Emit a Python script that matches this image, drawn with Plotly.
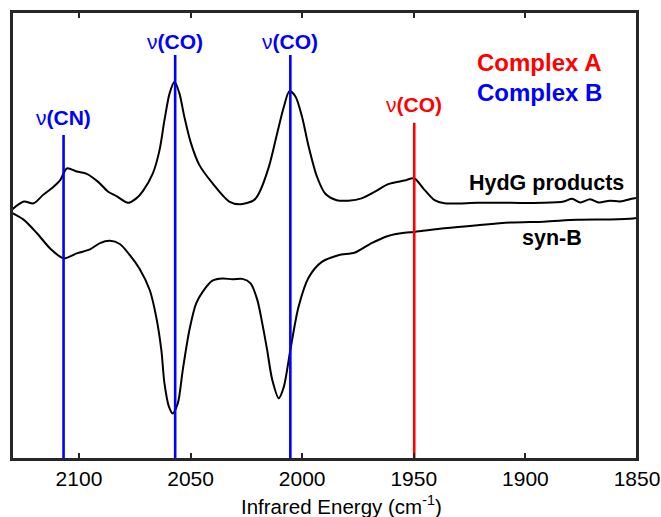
import plotly.graph_objects as go

# HydG products spectrum (wavenumber cm-1, arbitrary absorbance units)
hydg_x = [2129.8, 2124.7, 2120.3, 2116.0, 2111.4, 2108.4, 2105.4, 2101.0, 2096.5, 2091.4,
          2086.9, 2083.2, 2078.0, 2074.3, 2071.3, 2066.9, 2063.9, 2061.7, 2059.4, 2057.2,
          2055.0, 2052.8, 2049.8, 2046.1, 2040.2, 2032.7, 2027.5, 2021.6, 2019.4, 2014.9,
          2011.2, 2008.2, 2005.7, 2003.0, 2000.1, 1997.1, 1993.4, 1989.7, 1984.5, 1979.3,
          1973.4, 1967.4, 1961.5, 1954.1, 1949.9, 1945.2, 1940.7, 1936.3, 1921.4, 1906.6,
          1891.7, 1882.8, 1879.1, 1875.4, 1871.0, 1867.2, 1862.1, 1857.6, 1851.7, 1850.0]
hydg_y = [55.9, 57.6, 57.2, 59.1, 60.9, 62.4, 65.0, 64.3, 63.8, 62.0,
          59.8, 58.8, 57.3, 58.3, 60.0, 63.9, 69.1, 75.8, 81.8, 84.4,
          81.8, 76.6, 70.6, 65.8, 61.7, 57.6, 57.0, 57.9, 59.4, 65.4,
          72.9, 78.8, 82.3, 81.1, 76.6, 69.9, 63.2, 59.4, 57.9, 57.8,
          58.3, 59.8, 61.5, 62.3, 62.8, 60.2, 57.9, 57.2, 57.3, 57.3,
          57.3, 57.6, 58.2, 57.4, 58.1, 57.4, 57.8, 57.6, 58.3, 58.4]

# syn-B spectrum
synb_x = [2129.8, 2124.7, 2118.8, 2112.9, 2106.9, 2101.0, 2095.1, 2090.6, 2086.1, 2081.7,
          2077.2, 2072.8, 2068.3, 2065.4, 2063.1, 2061.7, 2059.7, 2058.0, 2055.7, 2053.5,
          2050.5, 2047.5, 2044.6, 2040.2, 2035.7, 2031.3, 2026.8, 2023.1, 2020.1, 2017.9,
          2015.7, 2013.4, 2010.5, 2008.2, 2005.3, 2001.6, 1997.1, 1991.2, 1983.8, 1976.3,
          1968.9, 1961.5, 1954.1, 1949.6, 1936.3, 1921.4, 1906.6, 1891.7, 1876.9, 1862.1,
          1851.7, 1850.0]
synb_y = [55.0, 53.5, 50.5, 47.1, 44.9, 46.0, 46.9, 48.3, 48.8, 48.1,
          45.6, 42.5, 37.8, 31.8, 24.4, 16.9, 11.7, 10.2, 12.5, 19.9,
          28.9, 34.8, 37.4, 39.9, 40.4, 40.2, 40.3, 39.3, 35.6, 30.4,
          24.4, 17.7, 13.6, 16.2, 24.4, 34.1, 40.6, 44.1, 45.6, 46.2,
          48.3, 49.9, 50.6, 50.8, 51.6, 52.3, 52.9, 53.1, 53.5, 53.6,
          53.8, 53.9]

# Band markers
band_pos = [2106.9, 2056.9, 2005.3, 1949.8]
band_top = [72.5, 90.4, 90.4, 75.2]
band_label = ["CN", "CO", "CO", "CO"]
band_label_y = [76.3, 93.3, 93.3, 79.2]
band_color = ["#0000FF", "#0000FF", "#0000FF", "#FF0000"]

x_ticks = [2100, 2050, 2000, 1950, 1900, 1850]
x_range = [2130, 1850]
y_range = [0, 100]

FONT = "Arial, Liberation Sans, Helvetica, sans-serif"

fig = go.Figure()
fig.add_trace(go.Scatter(x=hydg_x, y=hydg_y, mode="lines",
                         line=dict(color="black", width=2, shape="spline", smoothing=0.8),
                         showlegend=False, hoverinfo="skip"))
fig.add_trace(go.Scatter(x=synb_x, y=synb_y, mode="lines",
                         line=dict(color="black", width=2, shape="spline", smoothing=0.8),
                         showlegend=False, hoverinfo="skip"))

for pos, top, lab, ly, col in zip(band_pos, band_top, band_label, band_label_y, band_color):
    fig.add_trace(go.Scatter(x=[pos, pos], y=[y_range[0], top], mode="lines",
                             line=dict(color=col, width=2.6),
                             showlegend=False, hoverinfo="skip"))
    fig.add_annotation(x=pos, y=ly, xref="x", yref="y", showarrow=False,
                       text="ν<b>(" + lab + ")</b>",
                       font=dict(family=FONT, size=21, color=col),
                       xanchor="center", yanchor="middle")

fig.add_annotation(x=1893.8, y=88.6, xref="x", yref="y", showarrow=False,
                   text="<b>Complex A</b>", font=dict(family=FONT, size=24, color="#FF0000"),
                   xanchor="center", yanchor="middle")
fig.add_annotation(x=1893.8, y=82.1, xref="x", yref="y", showarrow=False,
                   text="<b>Complex B</b>", font=dict(family=FONT, size=24, color="#0000FF"),
                   xanchor="center", yanchor="middle")
fig.add_annotation(x=1890.7, y=61.7, xref="x", yref="y", showarrow=False,
                   text="<b>HydG products</b>", font=dict(family=FONT, size=21.5, color="black"),
                   xanchor="center", yanchor="middle")
fig.add_annotation(x=1888.0, y=49.4, xref="x", yref="y", showarrow=False,
                   text="<b>syn-B</b>", font=dict(family=FONT, size=21.5, color="black"),
                   xanchor="center", yanchor="middle")
fig.add_annotation(x=0.527, y=-0.103, xref="paper", yref="paper", showarrow=False,
                   text="Infrared Energy (cm<sup>-1</sup>)",
                   font=dict(family=FONT, size=20.5, color="black"),
                   xanchor="center", yanchor="middle")

# plot frame
fig.add_shape(type="rect", xref="paper", yref="paper", x0=0, y0=0, x1=1, y1=1,
              line=dict(color="#262626", width=2), fillcolor="rgba(0,0,0,0)", layer="above")

fig.update_layout(
    width=661, height=517,
    margin=dict(l=12, r=24, t=12, b=58, autoexpand=False),
    plot_bgcolor="white", paper_bgcolor="white",
    font=dict(family=FONT, size=21, color="black"),
    xaxis=dict(range=x_range, tickvals=x_ticks, ticktext=[str(t) for t in x_ticks],
               ticks="inside", ticklen=6, tickwidth=2, tickcolor="#262626",
               showline=True, linewidth=2, linecolor="#262626", mirror="ticks",
               showgrid=False, zeroline=False, automargin=False,
               tickfont=dict(family=FONT, size=21, color="black")),
    yaxis=dict(range=y_range, showticklabels=False, ticks="",
               showline=True, linewidth=2, linecolor="#262626", mirror=True,
               showgrid=False, zeroline=False, automargin=False),
)

fig.write_html("out.html", config={"displayModeBar": False},
               post_script="document.body.style.margin='0px';document.body.style.overflow='hidden';")
